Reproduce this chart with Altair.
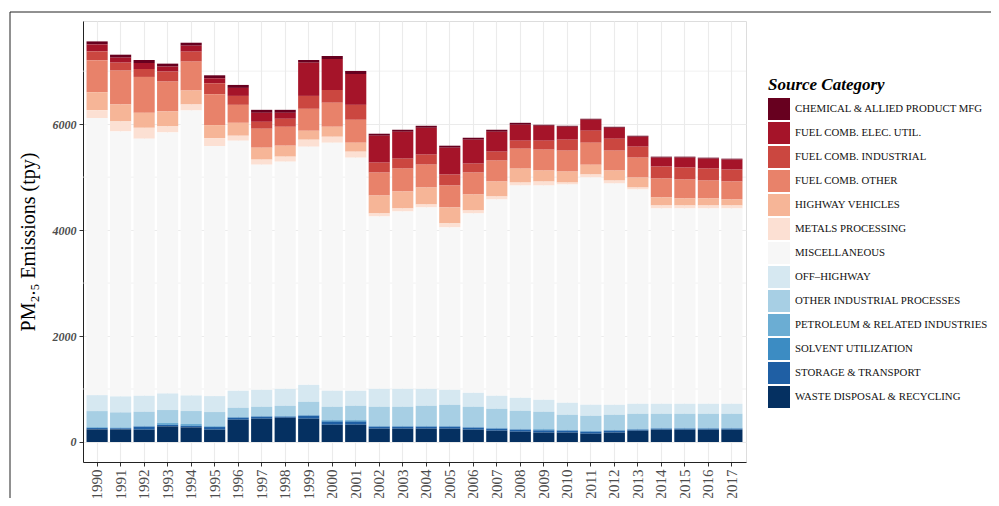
import altair as alt
import pandas as pd

years = [str(y) for y in range(1990, 2018)]

categories = [
    "CHEMICAL & ALLIED PRODUCT MFG",
    "FUEL COMB. ELEC. UTIL.",
    "FUEL COMB. INDUSTRIAL",
    "FUEL COMB. OTHER",
    "HIGHWAY VEHICLES",
    "METALS PROCESSING",
    "MISCELLANEOUS",
    "OFF-HIGHWAY",
    "OTHER INDUSTRIAL PROCESSES",
    "PETROLEUM & RELATED INDUSTRIES",
    "SOLVENT UTILIZATION",
    "STORAGE & TRANSPORT",
    "WASTE DISPOSAL & RECYCLING",
]
legend_labels = [c.replace("OFF-HIGHWAY", "OFF\u2013HIGHWAY") for c in categories]

colors = ["#67001f", "#a51429", "#cb4740", "#e8826a", "#f6b597", "#fce0d3",
          "#f7f7f7", "#d6e8f1", "#a7cfe4", "#6badd3", "#3c8cc3", "#1f5fa4", "#053061"]

chem = [57,56,57,56,56,56,56,56,56,51,57,57,38,38,38,38,37,38,37,19,19,19,19,19,19,19,19,18]
elec = [131,94,113,94,113,94,151,170,113,627,583,583,508,508,507,508,452,376,301,282,244,207,207,188,169,188,188,189]
ind = [169,151,150,189,188,207,169,131,151,244,244,282,188,188,189,207,169,169,151,169,207,226,225,207,226,226,226,225]
other = [602,639,677,564,546,583,339,358,357,414,452,433,433,432,432,413,414,395,376,395,395,414,376,376,357,357,338,339]
highway = [339,320,283,282,263,245,244,225,207,169,188,169,338,320,320,301,301,282,263,207,207,188,188,188,151,132,132,113]
metals = [150,188,206,113,113,150,94,95,94,132,113,113,57,57,56,76,56,57,57,76,38,56,57,38,56,56,56,56]
misc = [5230,5003,4853,4928,5380,4721,4721,4251,4289,4496,4683,4401,3254,3348,3424,3066,3386,3705,4006,4044,4119,4289,4176,4044,3687,3687,3687,3687]
offhwy = [301,301,301,313,294,301,320,319,320,319,301,282,338,338,319,282,263,245,245,225,226,207,188,188,188,188,188,188]
otherind = [301,283,264,245,245,264,169,170,188,245,245,264,358,358,377,395,377,357,338,320,282,282,282,282,263,263,263,263]
petroleum = [13,12,13,25,25,13,13,12,12,13,19,19,13,13,13,13,12,13,13,19,12,12,12,13,13,13,13,13]
solvent = [6,6,6,13,13,6,6,6,6,6,19,19,6,6,6,6,6,6,6,12,6,6,6,6,6,6,6,6]
storage = [25,20,56,25,25,50,38,38,19,56,56,56,37,37,37,37,38,38,38,44,38,38,38,19,19,19,19,19]
waste = [238,238,232,295,276,232,420,439,458,439,326,326,251,251,251,251,232,213,194,176,176,157,176,213,232,232,232,232]

series = [chem, elec, ind, other, highway, metals, misc, offhwy, otherind,
          petroleum, solvent, storage, waste]

y_labels = [0, 2000, 4000, 6000]
minor_grid = [1000, 3000, 5000, 7000]

rows = []
for ci, (cat, vals) in enumerate(zip(legend_labels, series)):
    for yr, v in zip(years, vals):
        rows.append({"year": yr, "category": cat, "value": v, "idx": ci})
df = pd.DataFrame(rows)

FONT = "Liberation Serif"
ydomain = [-378, 7947]

xscale = alt.Scale(domain=years, paddingInner=0.1, paddingOuter=0.15)
yscale = alt.Scale(domain=ydomain, nice=False, zero=False)

minor = alt.Chart(pd.DataFrame({"v": minor_grid})).mark_rule(
    color="#ebebeb", strokeWidth=0.7
).encode(y=alt.Y("v:Q", scale=yscale))

bars = alt.Chart(df).mark_bar().encode(
    x=alt.X("year:O", scale=xscale, sort=years,
            axis=alt.Axis(title=None, labelAngle=-90, labelFontSize=15,
                          labelColor="#4d4d4d", labelFont=FONT, grid=True,
                          gridColor="#ebebeb", gridWidth=1.1, tickColor="#333",
                          tickSize=4, domainColor="#222", labelPadding=3)),
    y=alt.Y("value:Q", scale=yscale, stack="zero",
            axis=alt.Axis(values=y_labels, format="d",
                          title="PM\u2082.\u2085 Emissions (tpy)",
                          titleFontSize=20, titleFont=FONT, titleFontWeight="normal",
                          titleColor="#000", titlePadding=14,
                          labelFont=FONT, labelFontSize=12, labelFontStyle="italic",
                          labelFontWeight="bold", labelColor="#4d4d4d",
                          grid=True, gridColor="#ebebeb", gridWidth=1.1,
                          tickColor="#333", tickSize=4, domainColor="#222",
                          labelPadding=3)),
    color=alt.Color("category:N",
                    scale=alt.Scale(domain=legend_labels, range=colors),
                    sort=legend_labels,
                    legend=alt.Legend(title="Source Category", orient="none",
                                      legendX=685, legendY=56,
                                      titleFont=FONT, titleFontSize=17,
                                      titleFontStyle="italic", titleFontWeight="bold",
                                      titleColor="#000", titlePadding=4,
                                      labelFont=FONT, labelFontSize=10.8,
                                      labelColor="#111", labelLimit=0,
                                      symbolType="square",
                                      symbolSize=484, symbolStrokeWidth=0,
                                      rowPadding=2, labelOffset=5)),
    order=alt.Order("idx:Q", sort="descending"),
)

frame = alt.Chart(pd.DataFrame({"a": [0]})).mark_rect(
    fill=None, stroke="#222", strokeWidth=1
).encode(x=alt.value(-73), x2=alt.value(1000), y=alt.value(-9), y2=alt.value(600))

chart = alt.layer(minor, bars, frame).properties(
    width=663, height=441,
    autosize=alt.AutoSizeParams(type="none"),
    padding={"left": 75, "top": 13, "right": 245, "bottom": 36},
).configure_view(stroke="#222", strokeWidth=1).configure(background="white")

chart.save("out.html", embed_options={"renderer": "svg", "actions": False})
